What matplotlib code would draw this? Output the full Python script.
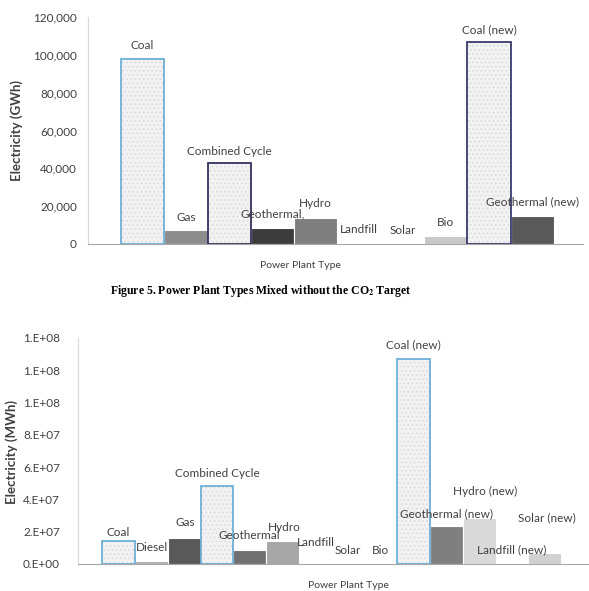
import math

import matplotlib

matplotlib.use("Agg", force=True)
import matplotlib.pyplot as plt
from matplotlib.ticker import FuncFormatter, MultipleLocator

plt.rcParams["font.family"] = ["Lato", "DejaVu Sans"]
plt.rcParams["mathtext.fontset"] = "stix"
plt.rcParams["hatch.linewidth"] = 0.6

# --- data: Figure 5 (without CO2 target), GWh ---
top_types = ["Coal", "Gas", "Combined Cycle", "Geothermal,", "Hydro", "Landfill",
             "Solar", "Bio", "Coal (new)", "Geothermal (new)"]
top_gwh = [98000, 7500, 42800, 8500, 13700, 500, 0, 4200, 106600, 14800]

# --- data: second figure, MWh ---
bot_types = ["Coal", "Diesel", "Gas", "Combined Cycle", "Geothermal", "Hydro", "Landfill",
             "Solar", "Bio", "Coal (new)", "Geothermal (new)", "Hydro (new)",
             "Landfill (new)", "Solar (new)"]
bot_mwh = [1.44e7, 1.6e6, 1.61e7, 4.83e7, 8.8e6, 1.40e7, 0, 0, 0, 1.27e8, 2.37e7,
           2.88e7, 0, 6.8e6]

# styles (None = textured bar, edge colour given separately)
top_fill = [None, "#8c8c8c", None, "#3c3c3c", "#7f7f7f", "#d9d9d9", "#d9d9d9",
            "#c8c8c8", None, "#595959"]
top_edge = ["#6cb0d8", None, "#34345f", None, None, None, None, None, "#3a3a70", None]
top_label_dy = [13, 12, 12, 14, 15, 14, 13, 14, 13, 14]  # px above bar top

bot_fill = [None, "#b0b0b0", "#595959", None, "#707070", "#a6a6a6", "#d9d9d9", "#d9d9d9",
            "#d9d9d9", None, "#7f7f7f", "#d9d9d9", "#d9d9d9", "#d0d0d0"]
bot_edge = ["#6cb0d8", None, None, "#6cb0d8", None, None, None, None, None,
            "#6cb0d8", None, None, None, None]
bot_label_dy = [8, 14, 16, 13, 14, 14, 21, 13, 13, 14, 12, 26, 14, 35]
bot_label_dx = [0, 1, 1, 0, 0, 2, 1, 0, 0, 0, 0, 6, 0, 2]

W, H = 589, 591
FS = 8.5
fig = plt.figure(figsize=(W / 100, H / 100), dpi=100)


def px_axes(left, top, right, bottom):
    return fig.add_axes([left / W, 1 - bottom / H, (right - left) / W, (bottom - top) / H])


def draw_bars(ax, values, fills, edges, labels, dys, dxs):
    xs = list(range(len(values)))
    for x, v, fc, ec, lab, dy, dx in zip(xs, values, fills, edges, labels, dys, dxs):
        if fc is None:
            # marble-like texture approximated with a fine hatch
            ax.bar(x, v, width=1.0, color="#f2f2f2", edgecolor="#d9d9d9", hatch="....",
                   linewidth=0, zorder=2)
            ax.bar(x, v, width=1.0, fill=False, edgecolor=ec, linewidth=1.3, zorder=3)
        else:
            ax.bar(x, v, width=1.0, color=fc, edgecolor="white", linewidth=0.8, zorder=2)
        ax.annotate(lab, (x, v), xytext=(dx * 0.72, dy * 0.72), textcoords="offset points",
                    ha="center", va="center", fontsize=FS, color="#404040", zorder=4)


def style_axes(ax):
    for s in ("top", "right"):
        ax.spines[s].set_visible(False)
    ax.spines["left"].set_color("#d9d9d9")
    ax.spines["bottom"].set_color("#a6a6a6")
    ax.tick_params(length=0, labelsize=FS, labelcolor="#404040")
    ax.set_xticks([])


# ---- top chart ----
ax1 = px_axes(88, 17, 583, 244)
draw_bars(ax1, top_gwh, top_fill, top_edge, top_types, top_label_dy, [0] * len(top_gwh))
ax1.set_ylim(0, 120000)
ax1.set_xlim(-1.26, 10.17)
ax1.yaxis.set_major_locator(MultipleLocator(20000))
ax1.yaxis.set_major_formatter(FuncFormatter(lambda v, p: f"{v:,.0f}"))
ax1.tick_params(axis="y", pad=8)
style_axes(ax1)

fig.text(17 / W, 1 - 130 / H, "Electricity (GWh)", rotation=90, ha="center", va="center",
         fontsize=9.5, fontweight="bold", color="#404040")
fig.text(300 / W, 1 - 266 / H, "Power Plant Type", ha="center", va="center",
         fontsize=7.5, color="#404040")
fig.text(261 / W, 1 - 291 / H, r"Figure 5. Power Plant Types Mixed without the CO$_\mathbf{2}$ Target",
         ha="center", va="center", fontsize=8.5, fontweight="bold",
         family=["Liberation Serif"], color="black")


# ---- bottom chart ----
def sci_fmt(v, pos):
    if v <= 0:
        return "0.E+00"
    e = int(math.floor(math.log10(v)))
    m = round(v / 10 ** e)
    if m == 10:
        m, e = 1, e + 1
    return f"{m}.E+{e:02d}"


ax2 = px_axes(78, 338, 588, 564)
draw_bars(ax2, bot_mwh, bot_fill, bot_edge, bot_types, bot_label_dy, bot_label_dx)
ax2.set_ylim(0, 1.4e8)
ax2.set_xlim(-1.24, 14.32)
ax2.yaxis.set_major_locator(MultipleLocator(2e7))
ax2.yaxis.set_major_formatter(FuncFormatter(sci_fmt))
ax2.tick_params(axis="y", pad=13)
style_axes(ax2)

fig.text(12 / W, 1 - 452 / H, "Electricity (MWh)", rotation=90, ha="center", va="center",
         fontsize=9.5, fontweight="bold", color="#404040")
fig.text(348 / W, 1 - 586 / H, "Power Plant Type", ha="center", va="center",
         fontsize=7.5, color="#404040")

fig.savefig("out.png", dpi=100)
plt.close(fig)
